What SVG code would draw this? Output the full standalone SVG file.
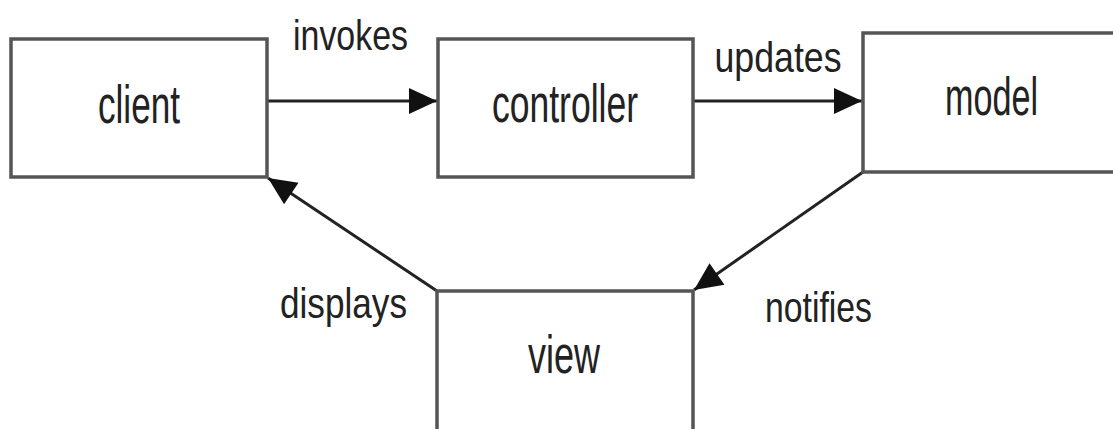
<svg xmlns="http://www.w3.org/2000/svg" width="1113" height="429" viewBox="0 0 1113 429">
<defs>
<style>
.box{fill:#fff;stroke:#555;stroke-width:3.5}
.node{font-family:"Liberation Sans",Arial,sans-serif;font-size:53px;fill:#222;text-anchor:middle}
.lbl{font-family:"Liberation Sans",Arial,sans-serif;font-size:43px;fill:#222;text-anchor:middle}
.edge{stroke:#222;stroke-width:3;fill:none;marker-end:url(#ah)}
</style>
<marker id="ah" viewBox="0 0 28 26" refX="28" refY="13" markerWidth="28" markerHeight="26" markerUnits="userSpaceOnUse" orient="auto" overflow="visible">
<path d="M0,0 L28,13 L0,26 Z" fill="#111"/>
</marker>
</defs>
<rect width="1113" height="429" fill="#fff"/>
<g id="connectors">
<line class="edge" x1="267" y1="101" x2="437" y2="101"/>
<line class="edge" x1="693" y1="101" x2="862" y2="101"/>
<line class="edge" x1="863" y1="172" x2="694" y2="290"/>
<line class="edge" x1="437" y1="291" x2="268" y2="178"/>
<text class="lbl" x="350.5" y="50" textLength="115" lengthAdjust="spacingAndGlyphs">invokes</text>
<text class="lbl" x="778" y="72" textLength="127" lengthAdjust="spacingAndGlyphs">updates</text>
<text class="lbl" x="343.5" y="318" textLength="127" lengthAdjust="spacingAndGlyphs">displays</text>
<text class="lbl" x="818.5" y="322" textLength="107" lengthAdjust="spacingAndGlyphs">notifies</text>
</g>
<g id="client">
<rect class="box" x="11" y="39" width="256" height="138"/>
<text class="node" x="139" y="123" textLength="82" lengthAdjust="spacingAndGlyphs">client</text>
</g>
<g id="controller">
<rect class="box" x="438" y="39" width="255" height="138"/>
<text class="node" x="565" y="122" textLength="146" lengthAdjust="spacingAndGlyphs">controller</text>
</g>
<g id="model">
<rect class="box" x="863" y="33" width="270" height="139"/>
<text class="node" x="991.5" y="115" textLength="93" lengthAdjust="spacingAndGlyphs">model</text>
</g>
<g id="view">
<rect class="box" x="437" y="291" width="256" height="160"/>
<text class="node" x="564" y="373" textLength="72" lengthAdjust="spacingAndGlyphs">view</text>
</g>
</svg>
